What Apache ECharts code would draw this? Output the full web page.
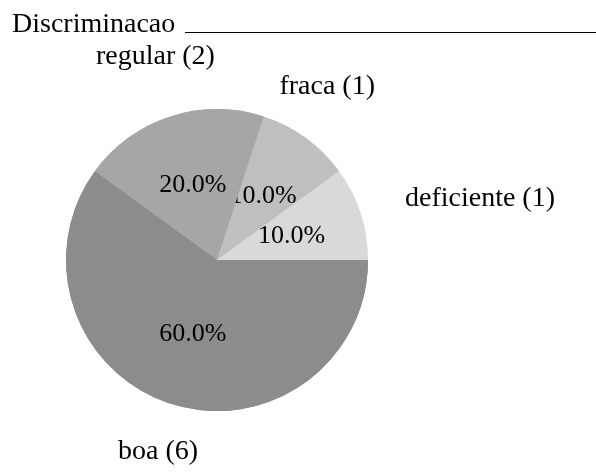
<!DOCTYPE html>
<html>
<head>
<meta charset="utf-8">
<script src="https://cdn.jsdelivr.net/npm/echarts@6/dist/echarts.min.js"></script>
<style>html,body{margin:0;padding:0;background:#fff}#c{width:596px;height:475px}</style>
</head>
<body>
<div id="c"></div>
<script>
const titleText = 'Discriminacao';
const categories = ['deficiente', 'fraca', 'regular', 'boa'];
const counts = [1, 1, 2, 6];
const colors = ['#d9d9d9', '#bfbfbf', '#a6a6a6', '#8c8c8c'];

const FONT = 'Liberation Serif';
const center = [217, 260];
const radius = 151;

// outer label placement (per category): line length and distance from edge
const outerLen = [46, 63, 63, 50];
const outerEdge = [41, 221, 96, 118];

const pctFmt = p => p.percent.toFixed(1) + '%';

function pieData(visibleIdx, withLabel) {
  return categories.map((c, i) => {
    const vis = visibleIdx.includes(i);
    return {
      name: c, value: counts[i],
      itemStyle: { color: vis ? colors[i] : 'rgba(0,0,0,0)' },
      label: { show: vis && withLabel }
    };
  });
}

const chart = echarts.init(document.getElementById('c'), null, { renderer: 'canvas' });
chart.setOption({
  animation: false,
  backgroundColor: '#fff',
  title: {
    text: titleText, left: 7, top: 6,
    textStyle: { fontFamily: FONT, fontSize: 28, fontWeight: 'normal', color: '#000' }
  },
  graphic: [{
    type: 'line', shape: { x1: 185, y1: 32.5, x2: 596, y2: 32.5 },
    style: { stroke: '#000', lineWidth: 1 }, silent: true
  }],
  series: [
    {
      type: 'pie', z: 2, center: center, radius: radius, startAngle: 0, clockwise: false,
      silent: true, emphasis: { disabled: true },
      label: { position: 'inside', formatter: pctFmt, fontFamily: FONT, fontSize: 26, color: '#000' },
      labelLine: { show: false },
      data: pieData([0, 1, 2, 3], false).map((d, i) => (i < 2 ? Object.assign(d, { label: { show: true } }) : d))
    },
    {
      type: 'pie', z: 3, center: center, radius: radius, startAngle: 0, clockwise: false,
      silent: true, emphasis: { disabled: true },
      label: { position: 'inside', formatter: pctFmt, fontFamily: FONT, fontSize: 26, color: '#000' },
      labelLine: { show: false },
      data: pieData([2, 3], true)
    },
    {
      type: 'pie', z: 4, center: center, radius: radius, startAngle: 0, clockwise: false,
      silent: true, emphasis: { disabled: true }, avoidLabelOverlap: false,
      label: { position: 'outside', formatter: p => p.name + ' (' + p.value + ')', fontFamily: FONT, fontSize: 28, color: '#000' },
      labelLine: { show: false },
      data: categories.map((c, i) => ({
        name: c, value: counts[i],
        itemStyle: { color: 'rgba(0,0,0,0)' },
        label: { alignTo: 'edge', edgeDistance: outerEdge[i] },
        labelLine: { show: false, length: outerLen[i], length2: 0 }
      }))
    }
  ]
});
</script>
</body>
</html>
